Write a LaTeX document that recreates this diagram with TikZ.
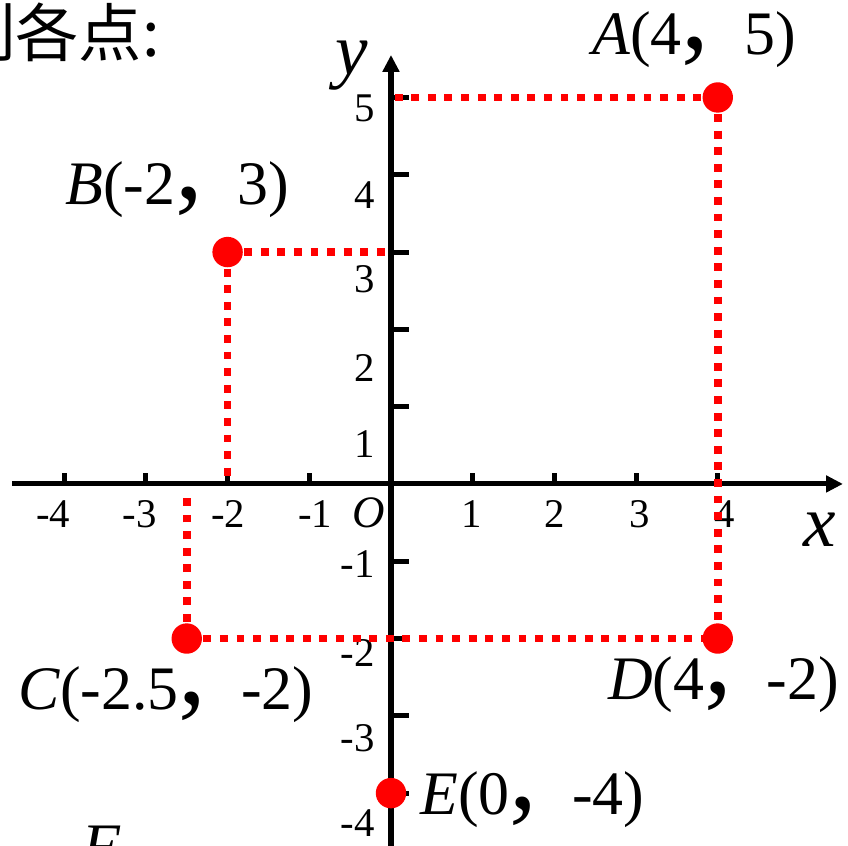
\documentclass[tikz,border=0pt]{standalone}
\usepackage{fontspec}
\setmainfont{Liberation Serif}
\newfontfamily\cjkfont{Noto Sans CJK SC}
\usetikzlibrary{arrows.meta}

% full-width comma in the point labels
\newcommand{\sepc}{\raisebox{0.1em}{\scalebox{1.8}{,}}\hspace{0.56em}}

\begin{document}
\begin{tikzpicture}[
  x=2.0425cm, y=1.9325cm,
  axis/.style={line width=3.6pt, -{Triangle[length=12pt, width=11.5pt]}},
  tickmark/.style={line width=3.6pt},
  guide/.style={red, line width=5.4pt, dash pattern=on 5.6pt off 6.2pt},
  ptdot/.style={circle, fill=red, inner sep=0pt, minimum size=0.76cm},
  ticklabel/.style={font=\fontsize{29}{34}\selectfont, inner sep=0pt, anchor=base},
  ptlabel/.style={font=\fontsize{44}{52}\selectfont, inner sep=0pt, anchor=base west},
  axislabel/.style={font=\itshape\fontsize{52}{60}\selectfont, inner sep=0pt, anchor=base},
]
\useasboundingbox (-4.786,-4.683) rectangle (5.594,6.261);

% Text cut by the page edge
\node[font=\cjkfont\fontsize{45}{54}\selectfont, inner sep=0pt, anchor=base west]
  (title) at (-5.373,5.524) {列各点:};
\node[font=\itshape\fontsize{44}{52}\selectfont, inner sep=0pt, anchor=base west]
  (next) at (-3.782,-4.955) {F};

% Axes
\draw[axis] (-4.639,0) -- (5.532,0);
\draw[axis] (0,-4.9) -- (0,5.55);
\node[axislabel] (xlab) at (5.251,-0.815) {x};
\node[axislabel] (ylab) at (-0.477,5.291) {y};
\node[ticklabel, font=\itshape\fontsize{32}{38}\selectfont] (olab) at (-0.269,-0.569) {O};

% Ticks and their numbers
\foreach \v in {-4,-3,-2,-1,1,2,3,4}
  \draw[tickmark] (\v,0) -- (\v,0.142);
\foreach \v in {-4,-3,-2,-1,1,2,3,4,5}
  \draw[tickmark] (0,\v) -- (0.22,\v);
\foreach \v/\lx in {-4/-4.137, -3/-3.078, -2/-1.995, -1/-0.930,
                    1/0.991, 2/2.007, 3/3.048, 4/4.088}
  \node[ticklabel] at (\lx,-0.569) {\v};
\foreach \v/\ly in {5/4.683, 4/3.570, 3/2.471, 2/1.320, 1/0.336,
                    -1/-1.216, -2/-2.367, -3/-3.467, -4/-4.567}
  \node[ticklabel, anchor=base east] at (-0.196,\ly) {\v};

% Point positions and their feet on the axes
\coordinate (pA) at (4,5);
\coordinate (pB) at (-2,3);
\coordinate (pC) at (-2.5,-2);
\coordinate (pD) at (4,-2);
\coordinate (pE) at (0,-4);
\coordinate (yA) at (0,5);
\coordinate (yB) at (0,3);
\coordinate (xB) at (-2,0);
\coordinate (xC) at (-2.5,-0.17);

% Red dotted guides
\draw[guide] (pA) -- (yA);
\draw[guide] (pA) -- (pD);
\draw[guide] (pB) -- (yB);
\draw[guide] (pB) -- (xB);
\draw[guide] (pC) -- (xC);
\draw[guide] (pC) -- (pD);

% Points
\node[ptdot] (A) at (pA) {};
\node[ptdot] (B) at (pB) {};
\node[ptdot] (C) at (pC) {};
\node[ptdot] (D) at (pD) {};
\node[ptdot] (E) at (pE) {};

% Point labels
\node[ptlabel] (lA) at (2.460,5.550) {\textit{A}(4\sepc 5)};
\node[ptlabel] (lB) at (-3.990,3.609) {\textit{B}(-2\sepc 3)};
\node[ptlabel] (lC) at (-4.565,-2.924) {\textit{C}(-2.5\sepc -2)};
\node[ptlabel] (lD) at (2.656,-2.795) {\textit{D}(4\sepc -2)};
\node[ptlabel] (lE) at (0.355,-4.282) {\textit{E}(0\sepc -4)};

\end{tikzpicture}
\end{document}
